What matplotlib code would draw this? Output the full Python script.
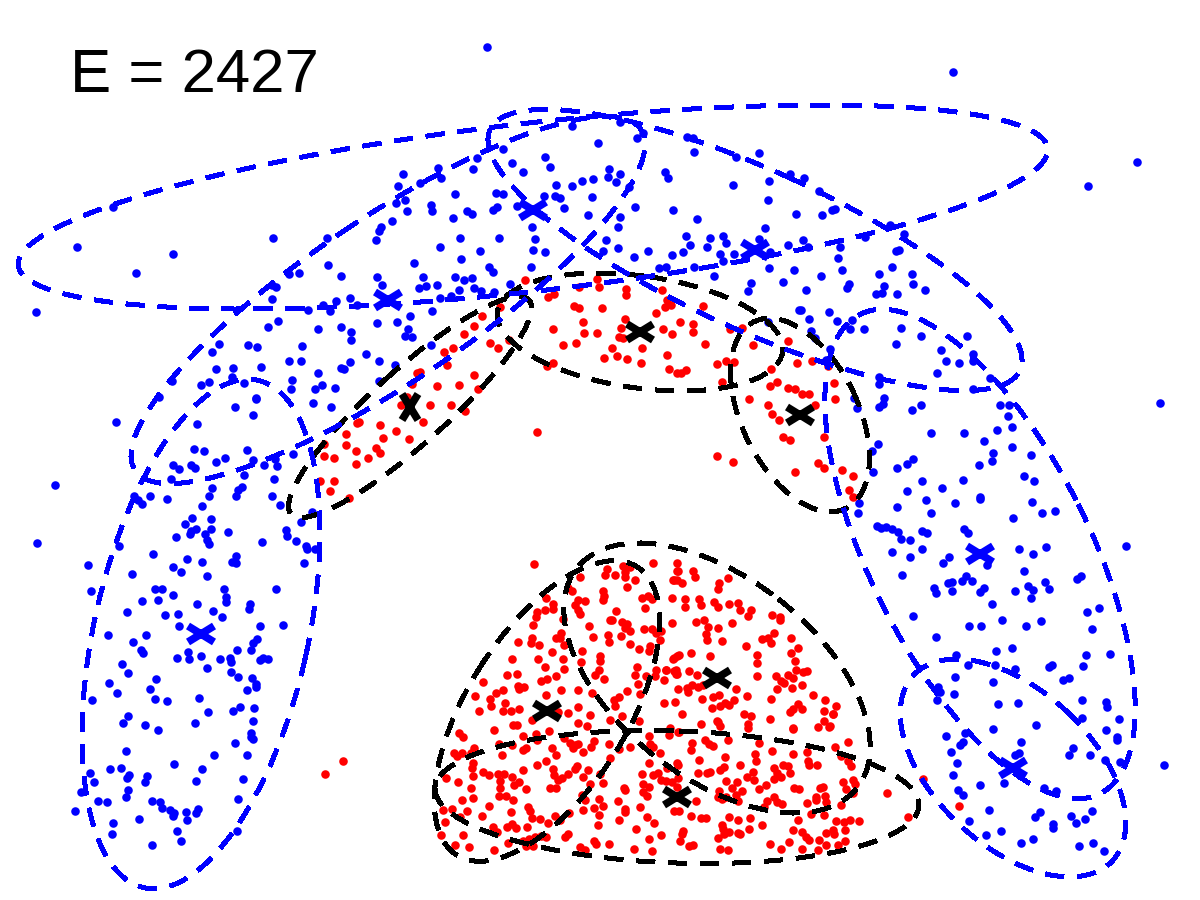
import numpy as np
import matplotlib
matplotlib.use("Agg")
import matplotlib.pyplot as plt
from matplotlib.patches import Ellipse
from matplotlib.markers import MarkerStyle
from matplotlib.transforms import Affine2D

energy_label = "E = 2427"

# points, in image pixels
blue_top = [
    (487,47),(953,72),(113,207),(77,247),(173,254),(136,273),(36,312),(273,238),(328,265),(341,276),
    (289,274),(299,273),(276,287),(272,285),(272,299),(278,321),(268,327),(318,329),(341,327),(351,332),
    (351,340),(377,323),(397,322),(377,277),(382,285),(336,301),(350,298),(323,305),(330,311),(308,310),
    (357,305),(376,240),(379,231),(381,227),(392,221),(396,203),(398,186),(327,238),(219,344),(212,352),
    (248,345),(257,347),(302,346),(289,361),(301,361),(261,367),(233,368),(232,377),(216,369),(209,382),
    (201,385),(244,383),(292,380),(291,389),(318,373),(341,368),(344,369),(350,362),(366,354),(379,361),
    (395,365),(315,389),(322,385),(335,388),(379,381),(256,398),(159,397),
]
blue_mid = [
    (403,174),(420,183),(405,200),(407,211),(431,205),(432,211),(441,178),(438,168),(473,169),(477,158),
    (503,149),(512,163),(523,172),(545,157),(550,167),(455,194),(496,193),(503,194),(453,218),(467,211),
    (472,214),(493,210),(497,207),(517,206),(544,196),(556,185),(572,186),(582,181),(593,179),(609,169),
    (608,177),(620,174),(616,182),(629,187),(592,197),(555,196),(560,198),(564,208),(588,215),(635,207),
    (620,217),(618,227),(673,210),(697,219),(598,143),(620,122),(572,126),(643,133),(637,138),(687,137),
    (693,138),(694,152),(759,153),(736,157),(665,172),(668,178),(790,174),(769,181),(733,185),(768,200),
    (796,214),(765,228),(686,236),(710,238),(723,236),(726,243),(707,247),(690,245),(683,252),(672,255),
    (648,251),(634,257),(618,248),(603,251),(606,240),(720,254),(734,254),(723,261),(759,239),(788,245),
    (770,252),(769,268),(794,270),(783,282),(751,283),(748,291),(714,276),(694,267),(666,267),(659,268),
    (532,227),(535,239),(533,250),(545,252),(499,238),(460,238),(440,247),(480,251),(461,259),(414,263),
    (423,277),(419,288),(426,286),(437,285),(455,277),(464,280),(472,278),(459,290),(474,288),(481,291),
    (489,267),(493,272),(531,267),(510,284),(494,292),(440,298),(451,296),(432,311),(410,316),(408,329),
    (405,336),(412,337),(431,345),(799,310),(768,322),
]
blue_right_top = [
    (1137,162),(1088,186),(804,178),(819,191),(832,210),(835,209),(822,215),(803,240),(808,247),(840,247),
    (865,237),(838,258),(842,270),(821,276),(806,290),(849,284),(847,288),(879,274),(892,267),(896,251),
    (899,250),(912,274),(913,284),(925,290),(897,294),(884,286),(882,293),(876,294),(890,225),(904,234),
    (829,312),(809,319),(837,321),(801,310),(811,331),(815,338),(850,329),(852,320),(864,329),(901,328),
    (921,336),(896,344),(967,336),(941,350),(946,361),(959,363),(973,354),(973,361),(937,373),(879,384),
    (879,377),(830,349),(826,360),(973,389),(990,378),(854,398),(884,398),(1160,403),
]
blue_right_mid = [
    (857,408),(883,404),(879,407),(912,410),(921,405),(1000,405),(1009,405),(1008,416),(1012,427),(997,430),
    (964,433),(931,433),(984,441),(1012,447),(993,453),(992,461),(979,465),(1031,455),(1024,476),(1034,481),
    (878,444),(872,451),(913,459),(907,464),(897,468),(873,472),(922,481),(907,491),(942,488),(963,480),
    (926,500),(955,503),(980,497),(980,499),(897,507),(931,513),(1032,502),(1042,513),(1055,511),(1013,518),
    (859,503),(858,513),(877,526),(881,528),(886,527),(892,529),(898,532),(901,539),(910,540),(922,531),
    (927,533),(964,529),(968,533),(892,552),(910,557),(922,549),(949,557),(943,563),(987,565),(1019,549),
    (1033,554),(1046,547),(1126,546),(902,575),(1024,571),(966,576),(962,581),(972,581),(948,583),(952,582),
    (934,588),(936,593),(952,591),(980,592),(984,588),(1015,591),(1028,586),(1033,590),(1031,598),(1045,582),
    (1049,589),(1077,579),(1081,576),(992,604),(1087,612),(1099,608),(913,616),(1002,620),(969,626),(981,626),
    (1026,626),(1041,621),(1092,629),
]
blue_right_low = [
    (936,637),(996,651),(1012,648),(1086,655),(1110,654),(956,655),(968,665),(1083,666),(1049,667),(1052,665),
    (995,665),(1015,669),(993,682),(1063,680),(1069,678),(955,677),(938,687),(940,692),(954,694),(937,700),
    (998,704),(1018,703),(1082,700),(1106,702),(1107,707),(1082,718),(1119,719),(1036,725),(993,729),(1106,730),
    (1117,737),(1117,740),(946,736),(965,733),(963,742),(960,745),(1021,742),(1073,748),(1069,755),(1090,755),
    (951,752),(957,763),(1015,755),(1019,753),(1105,760),(1120,762),(1164,765),(953,775),(1004,783),(980,785),
    (958,790),(963,795),(1044,788),(1056,791),(989,810),(1040,812),(1035,817),(1071,816),(1092,811),(1085,819),
    (1076,823),(1053,824),(1053,828),(969,821),(1001,831),(986,835),(1021,843),(1033,839),(1079,846),(1093,843),
    (1104,851),
]
blue_left_mid = [
    (37,543),(116,422),(55,485),(172,381),(235,407),(256,399),(253,415),(197,424),(313,403),(331,407),
    (194,449),(204,451),(247,450),(225,458),(216,462),(253,460),(173,465),(179,469),(191,465),(195,468),
    (264,465),(275,459),(277,466),(293,454),(244,475),(171,479),(274,479),(212,488),(209,496),(202,506),
    (134,496),(138,500),(142,504),(150,496),(167,499),(238,490),(242,487),(236,496),(272,496),(280,505),
    (312,512),(301,522),(192,518),(211,519),(185,524),(196,529),(191,531),(190,534),(211,529),(205,534),
    (207,540),(209,544),(228,532),(176,537),(262,542),(286,530),(287,536),(296,541),(306,546),(307,549),
    (315,549),(119,546),(153,554),(236,556),(232,562),(236,563),(187,559),(202,562),(304,563),(88,565),
    (173,567),(181,572),(132,574),(207,576),(91,591),(155,589),(162,589),(224,589),(276,589),(173,595),
    (142,601),(158,600),(226,597),(226,602),(197,604),(250,604),(249,609),(127,612),(165,615),(178,614),
    (213,611),(222,617),(179,626),(260,626),(283,625),
]
blue_left_low = [
    (108,635),(146,635),(133,642),(141,650),(143,653),(188,652),(177,658),(189,659),(201,656),(220,659),
    (230,658),(231,662),(237,650),(251,650),(257,639),(253,643),(263,658),(260,660),(268,659),(122,664),
    (128,673),(207,668),(231,672),(238,677),(252,678),(156,679),(109,683),(150,689),(117,693),(256,684),
    (256,687),(247,690),(92,700),(155,699),(167,701),(199,698),(208,712),(233,711),(240,707),(254,708),
    (128,716),(123,723),(145,725),(158,730),(195,723),(253,721),(251,733),(251,737),(253,739),(235,743),
    (126,751),(214,755),(247,755),(174,764),(202,769),(90,773),(110,769),(121,768),(129,775),(127,778),
    (147,776),(145,782),(94,782),(196,781),(243,779),(81,792),(128,790),(126,797),(98,801),(107,802),
    (152,801),(160,802),(162,808),(170,810),(174,813),(173,816),(186,812),(198,809),(196,813),(187,820),
    (238,799),(75,811),(113,823),(139,819),(112,834),(177,831),(181,841),(152,845),(237,831),
]
red_arch = [
    (525,280),(500,307),(597,279),(599,287),(579,287),(626,289),(626,295),(548,297),(554,294),(662,290),
    (667,300),(665,307),(671,305),(574,306),(579,308),(602,308),(703,306),(656,313),(482,316),(474,326),
    (464,334),(583,322),(553,329),(584,333),(597,333),(625,319),(621,328),(619,337),(623,338),(663,329),
    (672,334),(680,322),(693,324),(693,332),(705,344),(730,329),(742,328),(753,345),(788,341),(490,343),
    (498,348),(509,340),(563,345),(576,343),(612,348),(642,348),(444,352),(453,348),(447,365),(604,358),
    (617,356),(627,359),(641,363),(667,355),(669,369),(677,373),(681,373),(686,370),(717,364),(726,361),
    (734,362),(771,369),(797,363),(547,366),(553,363),(420,372),(412,384),(437,386),(459,385),(474,375),
    (478,389),(407,397),(722,382),(770,386),(777,382),(788,388),(795,389),(749,399),(812,361),(828,366),
    (834,383),(802,394),(835,399),(417,373),(401,405),(430,405),(451,405),(465,411),(423,422),(357,423),
    (359,422),(380,425),(396,431),(346,434),(383,438),(409,439),(346,445),(324,444),(356,451),(376,448),
    (380,453),(324,456),(334,458),(368,458),(356,464),(320,481),(334,481),(330,491),(349,498),(537,432),
    (717,456),(733,462),(768,405),(772,414),(779,420),(783,437),(790,440),(795,472),(818,463),(824,437),
    (824,468),(842,470),(853,476),(849,490),(853,497),(815,405),(809,394),
]
red_tri_upper_left = [
    (534,564),(607,569),(605,575),(615,575),(625,572),(623,566),(630,567),(653,563),(677,563),(677,571),
    (580,577),(625,577),(635,580),(627,587),(673,580),(677,580),(568,588),(572,591),(603,591),(604,596),
    (603,600),(546,598),(553,604),(545,610),(553,609),(585,601),(578,600),(575,605),(578,610),(580,614),
    (537,612),(536,617),(563,619),(533,625),(616,611),(610,620),(612,620),(589,626),(622,622),(627,624),
    (625,628),(630,631),(642,598),(648,596),(652,599),(645,608),(672,598),(672,623),(644,629),(652,629),
    (656,633),(661,631),(660,640),(621,636),(608,635),(609,642),(593,637),(561,633),(556,638),(560,638),
    (532,638),(531,643),(539,645),(564,645),(518,642),(630,644),(639,649),(650,646),(649,651),(552,652),
    (582,651),(538,659),(563,659),(512,659),(600,656),(600,661),(581,662),(677,656),(673,659),(545,667),
    (564,669),(637,667),(507,675),(517,674),(556,676),(599,670),(595,675),(635,675),(646,676),(656,670),
    (655,676),(666,670),(664,680),(676,670),(676,674),(604,679),(541,681),(547,679),(483,682),(638,684),
    (640,694),(518,686),(524,687),(519,689),(561,690),(578,690),(503,690),(496,693),(475,696),(546,695),
    (592,693),(627,691),(619,697),(614,700),(678,689),(490,699),(491,706),(505,703),(479,711),(503,711),
    (511,711),(519,709),(615,706),(578,707),(664,703),(675,702),(568,713),(590,715),(622,716),(532,720),
    (558,712),(610,720),(639,721),(494,730),(513,725),(517,725),(578,723),(587,726),
]
red_tri_upper_right = [
    (678,571),(693,571),(695,577),(674,580),(682,583),(728,578),(719,583),(718,589),(685,599),(685,607),
    (699,599),(701,605),(714,602),(718,607),(729,604),(738,603),(740,610),(751,610),(748,616),(772,615),
    (780,617),(780,620),(696,622),(704,620),(732,623),(708,627),(718,628),(706,634),(707,640),(722,641),
    (774,633),(791,638),(762,639),(768,638),(771,643),(746,646),(798,648),(791,653),(757,655),(691,653),
    (710,656),(674,658),(679,655),(757,663),(795,661),(689,671),(666,670),(674,671),(677,674),(697,675),
    (757,676),(776,676),(781,681),(788,675),(793,678),(796,670),(803,672),(807,671),(784,683),(802,685),
    (777,689),(792,688),(687,688),(692,685),(688,692),(698,687),(703,685),(736,689),(713,697),(719,695),
    (702,699),(747,696),(771,699),(813,695),(825,700),(836,706),(712,708),(720,706),(725,703),(734,700),
    (729,705),(798,704),(793,709),(802,709),(790,712),(824,711),(833,714),(682,714),(744,714),(751,716),
    (770,719),(824,721),(718,722),(701,724),(748,724),(720,726),(748,728),(818,727),(830,726),(670,728),
    (793,728),
]
red_tri_lower_left = [
    (459,733),(463,737),(523,736),(536,734),(537,740),(549,731),(564,738),(499,744),(570,743),(575,745),
    (573,748),(578,744),(594,741),(591,747),(583,752),(609,744),(619,749),(630,747),(649,736),(650,744),
    (653,747),(552,748),(556,755),(526,748),(523,750),(512,745),(502,755),(474,748),(471,753),(454,753),
    (462,753),(457,756),(473,763),(472,768),(473,776),(546,761),(537,765),(523,770),(483,772),(489,775),
    (498,774),(504,774),(500,781),(446,778),(458,782),(512,777),(519,782),(514,785),(471,788),(500,788),
    (526,789),(499,796),(506,796),(513,800),(473,798),(462,800),(550,788),(556,788),(553,769),(554,775),
    (558,780),(562,778),(568,774),(575,769),(577,766),(583,777),(588,770),(600,774),(610,758),(590,784),
    (603,783),(582,795),(585,800),(599,799),(603,806),(594,808),(618,801),(624,788),(625,790),(642,774),
    (643,784),(643,792),(649,787),(647,796),(649,763),(653,775),(658,773),(661,780),(666,781),(672,782),
    (660,753),(667,768),(677,763),(678,778),(669,735),(678,732),(640,807),(625,809),(625,812),(619,820),
    (599,815),(598,825),(647,817),(654,823),(636,829),(649,839),(661,835),(634,849),(652,851),(609,844),
    (594,841),(596,844),(580,847),(585,850),(565,837),(568,834),(569,813),(583,810),(555,816),(560,820),
    (548,823),(540,819),(532,818),(528,807),(530,811),(489,806),(511,812),(482,816),(467,811),(452,809),
    (443,810),(445,822),(460,817),(493,827),(497,832),(507,827),(512,824),(516,828),(527,827),(463,835),
    (441,835),(455,845),(469,847),(494,850),(508,843),(523,841),(529,839),(535,837),(541,836),(546,837),
    (533,846),(526,846),
]
red_tri_lower_right = [
    (717,721),(793,729),(829,727),(833,714),(679,732),(728,740),(692,743),(691,750),(705,740),(709,744),
    (713,746),(759,743),(699,760),(725,757),(740,765),(755,754),(756,761),(772,751),(793,754),(807,752),
    (808,761),(809,765),(817,765),(835,747),(848,742),(841,756),(848,761),(851,766),(678,765),(698,773),
    (707,773),(710,772),(720,770),(724,767),(753,772),(747,777),(754,780),(726,781),(737,782),(732,788),
    (742,791),(766,785),(759,789),(774,768),(777,773),(774,779),(781,777),(783,765),(788,766),(790,773),
    (794,788),(799,789),(820,788),(823,787),(843,782),(853,780),(846,789),(855,784),(677,787),(719,791),
    (718,797),(726,797),(736,795),(738,801),(696,801),(722,799),(774,797),(767,801),(764,807),(777,802),
    (782,804),(807,803),(816,797),(816,800),(825,796),(826,802),(841,805),(853,793),(887,793),(908,817),
    (923,779),(959,806),(674,811),(679,811),(691,816),(701,818),(706,818),(729,817),(738,820),(750,818),
    (811,814),(824,815),(798,820),(836,821),(844,822),(850,820),(859,821),(722,825),(723,829),(729,832),
    (738,833),(740,834),(724,834),(749,829),(762,825),(793,830),(802,832),(806,837),(809,840),(683,831),
    (682,834),(718,838),(833,830),(834,834),(845,830),(826,833),(819,840),(845,841),(838,845),(826,845),
    (789,842),(770,844),(680,841),(689,846),(693,845),(720,849),(728,850),(781,849),(802,849),(818,850),
    (343,761),(325,774),
]

# component means
blue_mean_x = [533, 755, 388, 201, 980, 1013]
blue_mean_y = [210, 250, 300, 634, 554, 768]
black_mean_x = [640, 410, 800, 717, 547, 677]
black_mean_y = [332, 407, 415, 678, 711, 797]

# covariance ellipses: centre, semi axes and angle (degrees, image y down)
blue_centre_y = [207, 250, 300, 634, 554, 768]
blue_semi_a = [518, 291, 305, 260, 268, 136]
blue_semi_b = [84, 80, 82, 107, 110, 78]
blue_angle = [-6.5, 24.4, -34, 102.7, 63.4, 43]
black_semi_a = [144, 160, 104, 178, 170, 242]
black_semi_b = [56, 37, 58, 100, 80, 66]
black_angle = [8, -42, 63.7, 38, -58, 2]


def draw_ellipses(ax, xs, ys, semi_a, semi_b, angles, color, zorder):
    for x, y, a, b, ang in zip(xs, ys, semi_a, semi_b, angles):
        e = Ellipse((x, y), 2 * a, 2 * b, angle=ang, fill=False, edgecolor=color,
                    linewidth=3.2, linestyle=(0, (13, 10)), antialiased=False, zorder=zorder)
        e.set_capstyle("butt")
        ax.add_patch(e)


def main():
    plt.rcParams["lines.scale_dashes"] = False
    plt.rcParams["font.family"] = ["Liberation Sans", "DejaVu Sans"]

    fig = plt.figure(figsize=(12, 9), dpi=100)
    ax = fig.add_axes([0, 0, 1, 1])
    ax.set_xlim(0, 1200)
    ax.set_ylim(900, 0)
    ax.axis("off")

    blue = np.array(blue_top + blue_mid + blue_right_top + blue_right_mid + blue_right_low
                    + blue_left_mid + blue_left_low)
    red = np.array(red_arch + red_tri_upper_left + red_tri_upper_right
                   + red_tri_lower_left + red_tri_lower_right)
    ax.scatter(blue[:, 0], blue[:, 1], s=38, c="#0000ff", marker="o", linewidths=0, antialiased=False, zorder=2)
    ax.scatter(red[:, 0], red[:, 1], s=38, c="#ff0000", marker="o", linewidths=0, antialiased=False, zorder=2)

    draw_ellipses(ax, black_mean_x, black_mean_y, black_semi_a, black_semi_b, black_angle, "black", 3)
    draw_ellipses(ax, blue_mean_x, blue_centre_y, blue_semi_a, blue_semi_b, blue_angle, "#0000ff", 4)

    # crosses are wider than tall, except the black one on the left arm
    wide = MarkerStyle("x", transform=Affine2D().scale(1, 0.62))
    tall = MarkerStyle("x", transform=Affine2D().scale(0.62, 1))
    ax.plot(blue_mean_x, blue_mean_y, linestyle="none", marker=wide, markersize=19,
            markeredgewidth=5.5, color="#0000ff", zorder=5)
    for i, (x, y) in enumerate(zip(black_mean_x, black_mean_y)):
        ax.plot(x, y, linestyle="none", marker=tall if i == 1 else wide, markersize=19,
                markeredgewidth=5.5, color="black", zorder=5)

    ax.text(70, 92, energy_label, fontsize=44.5, color="black", ha="left", va="baseline")

    fig.savefig("out.png", dpi=100)
    plt.close(fig)


if __name__ == "__main__":
    main()
